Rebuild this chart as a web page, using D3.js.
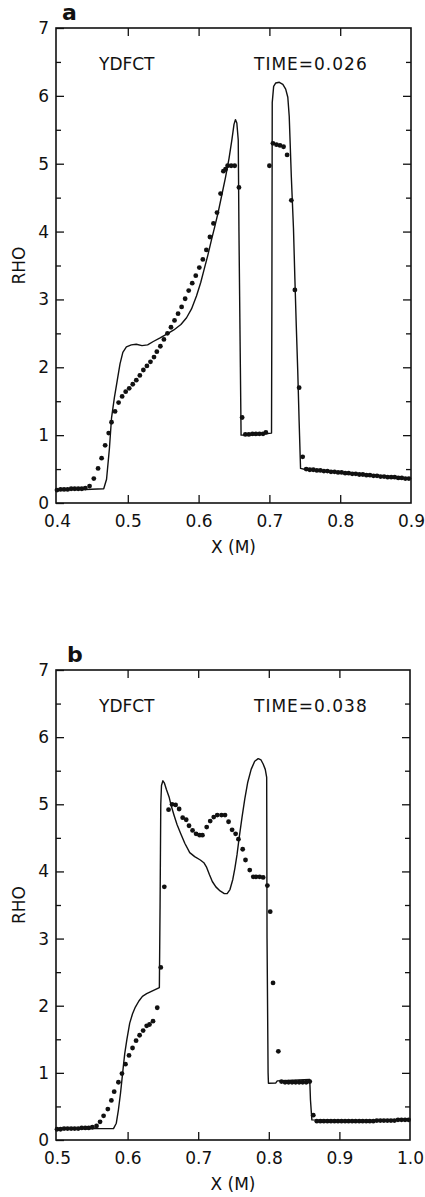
<!DOCTYPE html>
<html>
<head>
<meta charset="utf-8">
<script src="https://cdn.jsdelivr.net/npm/d3@7"></script>
<style>
  html, body { margin: 0; padding: 0; background: #fff; }
  svg { display: block; }
  text { font-family: "DejaVu Sans", sans-serif; fill: #111; }
  .axis path { display: none; }
  .axis line { stroke: #111; stroke-width: 1.3; }
  .axis text { font-size: 17px; }
</style>
</head>
<body>
<svg id="chart" width="425" height="1197"></svg>
<script>
// ---------------------------------------------------------------------------
// Density (RHO) vs position, two snapshots. Solid = reference curve,
// dots = YDFCT cells.
// ---------------------------------------------------------------------------

// panel a, TIME=0.026 — solid curve [x, rho]
const lineA = [
  [0.400, 0.20], [0.440, 0.20], [0.466, 0.21], [0.470, 0.35], [0.474, 0.80],
  [0.477, 1.25], [0.481, 1.55], [0.485, 1.80], [0.489, 2.05], [0.493, 2.22],
  [0.498, 2.30], [0.505, 2.33], [0.512, 2.34], [0.520, 2.32], [0.528, 2.33],
  [0.536, 2.38], [0.545, 2.43], [0.555, 2.49], [0.565, 2.55], [0.575, 2.63],
  [0.583, 2.73], [0.590, 2.86], [0.597, 3.05], [0.603, 3.25], [0.608, 3.45],
  [0.613, 3.65], [0.618, 3.87], [0.623, 4.08], [0.628, 4.30], [0.633, 4.55],
  [0.638, 4.80], [0.643, 5.08], [0.647, 5.35], [0.650, 5.58], [0.652, 5.65],
  [0.654, 5.60], [0.656, 5.35], [0.657, 4.00], [0.659, 2.00], [0.660, 1.00],
  [0.680, 1.00], [0.703, 1.03], [0.7035, 3.00], [0.704, 5.90], [0.706, 6.14],
  [0.709, 6.19], [0.714, 6.20], [0.719, 6.17], [0.723, 6.10], [0.726, 5.98],
  [0.728, 5.70], [0.729, 5.40], [0.731, 4.80], [0.734, 4.05], [0.736, 3.30],
  [0.738, 2.60], [0.740, 1.96], [0.742, 1.20], [0.744, 0.51], [0.752, 0.49],
  [0.800, 0.45], [0.850, 0.41], [0.900, 0.36]
];

// panel a — YDFCT dots [x, rho]
const dotsA = [
  [0.400, 0.19], [0.405, 0.20], [0.410, 0.20], [0.415, 0.20], [0.420, 0.21],
  [0.425, 0.21], [0.430, 0.21], [0.435, 0.21], [0.440, 0.22], [0.446, 0.25],
  [0.452, 0.36], [0.458, 0.51], [0.463, 0.66], [0.468, 0.85], [0.473, 1.03],
  [0.477, 1.19], [0.482, 1.35], [0.487, 1.48], [0.492, 1.57], [0.497, 1.64],
  [0.502, 1.69], [0.507, 1.75], [0.512, 1.81], [0.517, 1.88], [0.522, 1.96],
  [0.527, 2.02], [0.532, 2.08], [0.537, 2.15], [0.541, 2.23], [0.546, 2.31],
  [0.551, 2.41], [0.556, 2.50], [0.561, 2.59], [0.566, 2.69], [0.571, 2.79],
  [0.576, 2.89], [0.581, 3.01], [0.586, 3.13], [0.591, 3.24], [0.596, 3.35],
  [0.601, 3.47], [0.606, 3.59], [0.611, 3.73], [0.616, 3.92], [0.621, 4.12],
  [0.626, 4.28], [0.631, 4.56], [0.635, 4.89], [0.638, 4.92], [0.641, 4.97],
  [0.646, 4.97], [0.651, 4.97], [0.657, 4.65], [0.6615, 1.26],
  [0.666, 1.01], [0.671, 1.01], [0.676, 1.02], [0.681, 1.02], [0.686, 1.02],
  [0.691, 1.02], [0.695, 1.04], [0.700, 4.97], [0.705, 5.30], [0.710, 5.28],
  [0.715, 5.27], [0.720, 5.25], [0.725, 5.13], [0.731, 4.46], [0.736, 3.14],
  [0.742, 1.70], [0.747, 0.68],
  [0.752, 0.50], [0.757, 0.49], [0.762, 0.49], [0.767, 0.48], [0.772, 0.48],
  [0.777, 0.47], [0.782, 0.47], [0.787, 0.46], [0.792, 0.46], [0.797, 0.45],
  [0.802, 0.45], [0.807, 0.44], [0.812, 0.44], [0.817, 0.43], [0.822, 0.43],
  [0.827, 0.42], [0.832, 0.42], [0.837, 0.41], [0.842, 0.41], [0.847, 0.40],
  [0.852, 0.40], [0.857, 0.39], [0.862, 0.39], [0.867, 0.38], [0.872, 0.38],
  [0.877, 0.38], [0.882, 0.37], [0.887, 0.37], [0.892, 0.36], [0.897, 0.36]
];

// panel b, TIME=0.038 — solid curve [x, rho]
const lineB = [
  [0.500, 0.17], [0.540, 0.17], [0.580, 0.17], [0.584, 0.25], [0.587, 0.45],
  [0.590, 0.70], [0.592, 0.90], [0.594, 1.10], [0.596, 1.29], [0.599, 1.50],
  [0.603, 1.74], [0.607, 1.88], [0.611, 1.98], [0.616, 2.07], [0.621, 2.14],
  [0.627, 2.18], [0.633, 2.21], [0.639, 2.24], [0.645, 2.27], [0.646, 3.50],
  [0.647, 5.00], [0.648, 5.28], [0.650, 5.35], [0.652, 5.32], [0.655, 5.22],
  [0.659, 5.10], [0.662, 4.97], [0.666, 4.83], [0.670, 4.70], [0.675, 4.57],
  [0.681, 4.42], [0.688, 4.28], [0.695, 4.22], [0.703, 4.17], [0.708, 4.13],
  [0.712, 4.06], [0.716, 3.95], [0.720, 3.85], [0.725, 3.77], [0.731, 3.71],
  [0.737, 3.67], [0.741, 3.67], [0.745, 3.73], [0.749, 3.88], [0.752, 4.05],
  [0.755, 4.25], [0.758, 4.50], [0.762, 4.80], [0.766, 5.08], [0.770, 5.32],
  [0.775, 5.52], [0.780, 5.64], [0.785, 5.68], [0.789, 5.66], [0.792, 5.60],
  [0.795, 5.52], [0.797, 5.40], [0.7975, 3.00], [0.799, 1.00], [0.7995, 0.845],
  [0.810, 0.85], [0.812, 0.88], [0.858, 0.90], [0.859, 0.60], [0.861, 0.30],
  [0.900, 0.29], [0.950, 0.29], [1.000, 0.30]
];

// panel b — YDFCT dots [x, rho]
const dotsB = [
  [0.500, 0.16], [0.505, 0.16], [0.510, 0.17], [0.515, 0.17], [0.520, 0.17],
  [0.525, 0.17], [0.530, 0.17], [0.535, 0.18], [0.540, 0.18], [0.545, 0.18],
  [0.550, 0.19], [0.556, 0.21], [0.561, 0.27], [0.566, 0.36], [0.572, 0.46],
  [0.577, 0.59], [0.581, 0.72], [0.587, 0.86], [0.592, 0.99], [0.597, 1.13],
  [0.602, 1.26], [0.607, 1.37], [0.612, 1.48], [0.617, 1.56], [0.622, 1.63],
  [0.627, 1.70], [0.631, 1.72], [0.636, 1.77], [0.642, 1.97], [0.647, 2.57],
  [0.652, 3.77], [0.658, 4.92], [0.663, 5.00], [0.668, 4.99], [0.673, 4.93],
  [0.678, 4.80], [0.683, 4.77], [0.687, 4.68], [0.692, 4.61], [0.697, 4.56],
  [0.702, 4.54], [0.706, 4.54], [0.712, 4.66], [0.717, 4.75], [0.722, 4.81],
  [0.727, 4.84], [0.733, 4.84], [0.738, 4.84], [0.743, 4.74], [0.748, 4.62],
  [0.753, 4.56], [0.757, 4.48], [0.763, 4.33], [0.767, 4.17], [0.773, 4.02],
  [0.778, 3.92], [0.782, 3.92], [0.787, 3.92], [0.792, 3.91], [0.798, 3.79],
  [0.802, 3.40], [0.806, 2.34], [0.8135, 1.32],
  [0.818, 0.87], [0.823, 0.86], [0.828, 0.86], [0.833, 0.86], [0.838, 0.86],
  [0.843, 0.86], [0.848, 0.86], [0.853, 0.86], [0.858, 0.87], [0.863, 0.37],
  [0.868, 0.28], [0.873, 0.28], [0.878, 0.28], [0.883, 0.28], [0.888, 0.28],
  [0.893, 0.28], [0.898, 0.28], [0.903, 0.28], [0.908, 0.28], [0.913, 0.28],
  [0.918, 0.28], [0.923, 0.28], [0.928, 0.28], [0.933, 0.28], [0.938, 0.28],
  [0.943, 0.28], [0.948, 0.28], [0.953, 0.29], [0.958, 0.29], [0.963, 0.29],
  [0.968, 0.29], [0.973, 0.29], [0.978, 0.29], [0.983, 0.30], [0.988, 0.30],
  [0.993, 0.30], [0.998, 0.30]
];

const xTicksA = [0.4, 0.5, 0.6, 0.7, 0.8, 0.9];
const xTicksB = [0.5, 0.6, 0.7, 0.8, 0.9, 1.0];
const yTicks = [0, 1, 2, 3, 4, 5, 6, 7];
const yMinor = [0.5, 1.5, 2.5, 3.5, 4.5, 5.5, 6.5];

const panels = [
  { tag: "a", time: "TIME=0.026", line: lineA, dots: dotsA, xTicks: xTicksA,
    box: { left: 56, right: 411, top: 28, bottom: 503 }, tagX: 62 },
  { tag: "b", time: "TIME=0.038", line: lineB, dots: dotsB, xTicks: xTicksB,
    box: { left: 56, right: 410, top: 670, bottom: 1140 }, tagX: 67 },
];

const svg = d3.select("#chart");

function drawPanel(p) {
  const b = p.box;
  const xDom = d3.extent(p.xTicks);
  const x = d3.scaleLinear().domain(xDom).range([b.left + 1, b.right]);
  const y = d3.scaleLinear().domain([0, 7]).range([b.bottom, b.top]);
  const g = svg.append("g");

  const midTicks = p.xTicks.slice(1, -1);

  // bottom axis with labels, ticks pointing inward
  g.append("g").attr("class", "axis")
    .attr("transform", `translate(0,${b.bottom})`)
    .call(d3.axisBottom(x).tickValues(p.xTicks).tickSize(-8).tickPadding(12)
      .tickFormat(d3.format(".1f")))
    .selectAll(".tick line").filter((d, i, n) => i === 0 || i === n.length - 1).remove();

  g.append("g").attr("class", "axis")
    .attr("transform", `translate(0,${b.top})`)
    .call(d3.axisTop(x).tickValues(midTicks).tickSize(-8).tickFormat(""));

  // left axis with labels
  g.append("g").attr("class", "axis")
    .attr("transform", `translate(${b.left},0)`)
    .call(d3.axisLeft(y).tickValues(yTicks).tickSize(-8).tickPadding(7)
      .tickFormat(d3.format("d")));
  g.append("g").attr("class", "axis")
    .attr("transform", `translate(${b.left},0)`)
    .call(d3.axisLeft(y).tickValues(yMinor).tickSize(-5).tickFormat(""));

  g.append("g").attr("class", "axis")
    .attr("transform", `translate(${b.right},0)`)
    .call(d3.axisRight(y).tickValues(yTicks.slice(1, -1)).tickSize(-8).tickFormat(""));
  g.append("g").attr("class", "axis")
    .attr("transform", `translate(${b.right},0)`)
    .call(d3.axisRight(y).tickValues(yMinor).tickSize(-5).tickFormat(""));

  // frame
  g.append("rect")
    .attr("x", b.left).attr("y", b.top)
    .attr("width", b.right - b.left).attr("height", b.bottom - b.top)
    .attr("fill", "none").attr("stroke", "#111").attr("stroke-width", 1.6);

  // solid curve
  g.append("path")
    .datum(p.line)
    .attr("fill", "none").attr("stroke", "#111").attr("stroke-width", 1.4)
    .attr("stroke-linejoin", "round")
    .attr("d", d3.line().x((d) => x(d[0])).y((d) => y(d[1])));

  // YDFCT cells
  g.append("g").selectAll("circle")
    .data(p.dots)
    .enter().append("circle")
      .attr("cx", (d) => x(d[0]))
      .attr("cy", (d) => y(d[1]))
      .attr("r", 2.4)
      .attr("fill", "#111");

  // labels
  g.append("text").attr("x", p.tagX).attr("y", b.top - 8)
    .style("font-size", "22px").style("font-weight", "bold").text(p.tag);
  g.append("text").attr("x", 99).attr("y", b.top + 42)
    .style("font-size", "17px").text("YDFCT");
  g.append("text").attr("x", 254).attr("y", b.top + 42)
    .style("font-size", "17px").style("letter-spacing", "1px").text(p.time);

  const cy = (b.top + b.bottom) / 2;
  g.append("text")
    .attr("transform", `translate(25,${cy}) rotate(-90)`)
    .attr("text-anchor", "middle")
    .style("font-size", "17px").text("RHO");

  g.append("text")
    .attr("x", (b.left + b.right) / 2).attr("y", b.bottom + 50)
    .attr("text-anchor", "middle")
    .style("font-size", "17px").text("X (M)");
}

panels.forEach(drawPanel);
</script>
</body>
</html>
